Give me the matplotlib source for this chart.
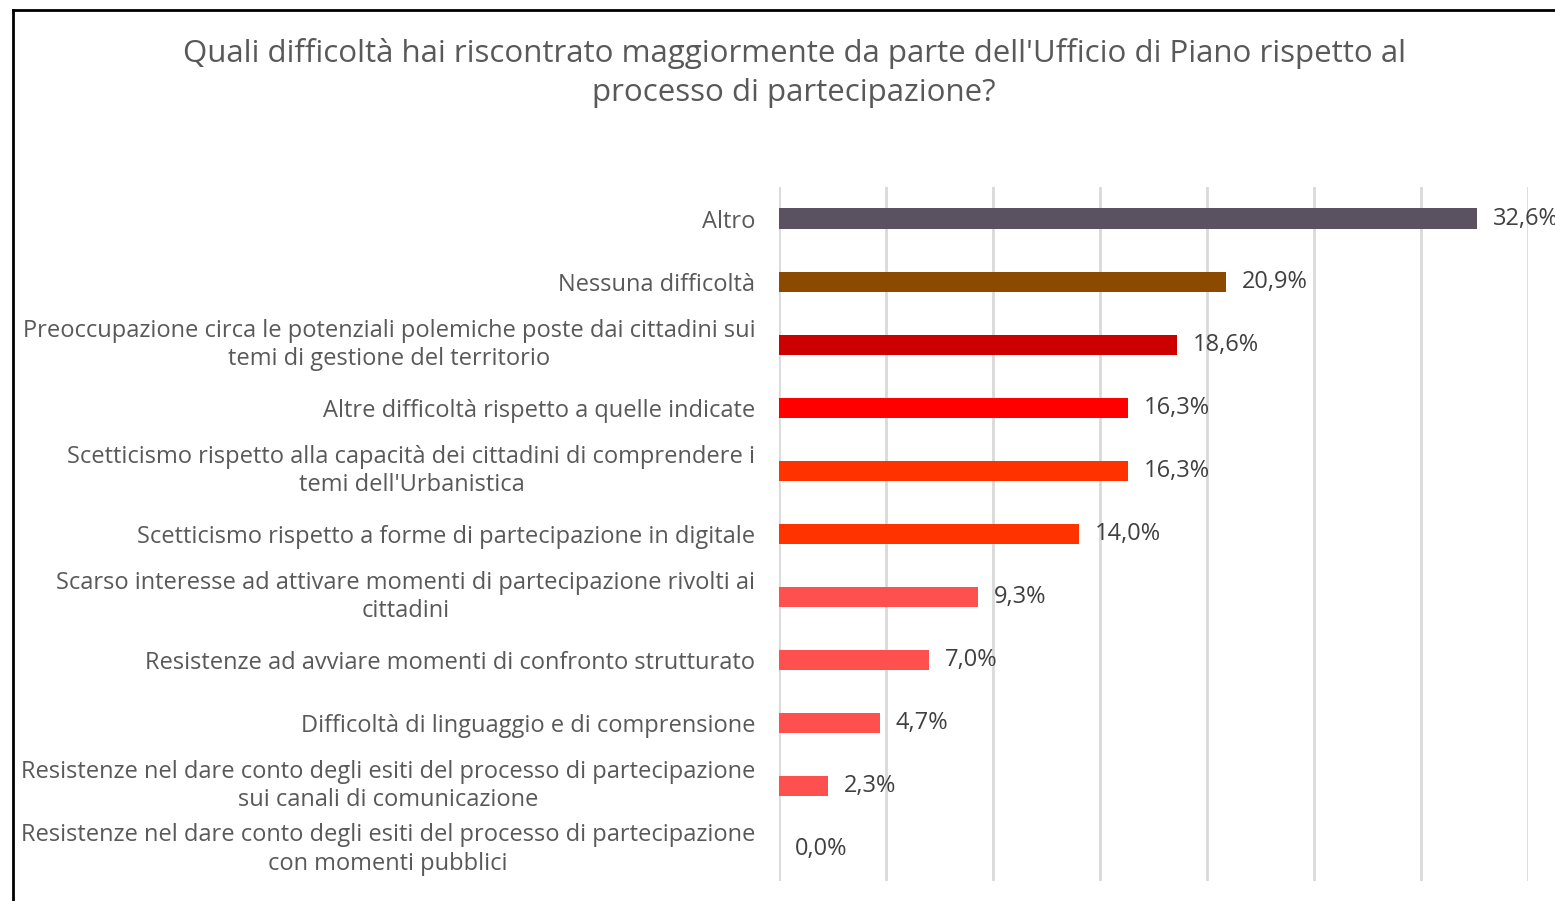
import matplotlib
matplotlib.use("Agg")
import matplotlib.pyplot as plt
from matplotlib.lines import Line2D

plt.rcParams['font.family'] = ['Open Sans', 'DejaVu Sans']

categories = [
    "Altro",
    "Nessuna difficoltà",
    "Preoccupazione circa le potenziali polemiche poste dai cittadini sui\ntemi di gestione del territorio",
    "Altre difficoltà rispetto a quelle indicate",
    "Scetticismo rispetto alla capacità dei cittadini di comprendere i\ntemi dell'Urbanistica",
    "Scetticismo rispetto a forme di partecipazione in digitale",
    "Scarso interesse ad attivare momenti di partecipazione rivolti ai\ncittadini",
    "Resistenze ad avviare momenti di confronto strutturato",
    "Difficoltà di linguaggio e di comprensione",
    "Resistenze nel dare conto degli esiti del processo di partecipazione\nsui canali di comunicazione",
    "Resistenze nel dare conto degli esiti del processo di partecipazione\ncon momenti pubblici",
]
values = [32.6, 20.9, 18.6, 16.3, 16.3, 14.0, 9.3, 7.0, 4.7, 2.3, 0.0]
colors = ["#5A5260", "#8B4A00", "#CC0000", "#FF0000", "#FF3300", "#FF3300",
          "#FF5050", "#FF5050", "#FF5050", "#FF5050", "#FF5050"]
title = "Quali difficoltà hai riscontrato maggiormente da parte dell'Ufficio di Piano rispetto al\nprocesso di partecipazione?"

W, H = 1555, 901
fig = plt.figure(figsize=(W / 100, H / 100), dpi=100)
ax = fig.add_axes([779 / W, 1 - 881 / H, (1528 - 779) / W, (881 - 187) / H])

y = list(range(len(categories)))
ax.barh(y, values, height=0.32, color=colors, zorder=3)
ax.set_ylim(len(categories) - 0.5, -0.5)
ax.set_xlim(0, 35)
ax.set_xticks([0, 5, 10, 15, 20, 25, 30, 35])
ax.xaxis.grid(True, color="#D9D9D9", linewidth=2, zorder=0)
ax.tick_params(axis='x', length=0, labelbottom=False)
ax.tick_params(axis='y', length=0, pad=17)
ax.set_yticks(y)
ax.set_yticklabels(categories, fontsize=17, color="#595959", ha='right',
                   multialignment='center', linespacing=1.23)
for lbl in ax.get_yticklabels():
    if "\n" in lbl.get_text():
        lbl.set_va('center')
for s in ax.spines.values():
    s.set_visible(False)

for yi, v in zip(y, values):
    ax.text(v + 0.75, yi, f"{v:.1f}%".replace('.', ','), va='center', ha='left',
            fontsize=17, color="#404040", clip_on=False)

fig.text(794 / W, 1 - 73 / H, title, ha='center', va='center', fontsize=22.5,
         color="#595959", linespacing=1.36)

# frame border (left and top)
fig.add_artist(Line2D([13 / W, 13 / W], [0, 1 - 10 / H], color='black', linewidth=2,
                      transform=fig.transFigure))
fig.add_artist(Line2D([13 / W, 1], [1 - 10 / H, 1 - 10 / H], color='black', linewidth=2,
                      transform=fig.transFigure))

fig.savefig("out.png", dpi=100)
